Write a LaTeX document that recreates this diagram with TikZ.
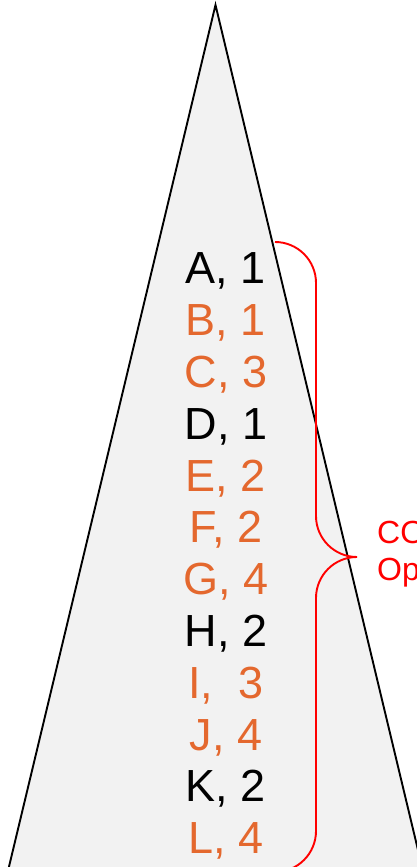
\documentclass[tikz,border=0pt]{standalone}
\usepackage{fontspec}
\setmainfont{Liberation Sans}
\usepackage{tikz}
\usetikzlibrary{positioning}
\definecolor{entryorange}{RGB}{228,104,46}
\definecolor{conefill}{RGB}{242,242,242}

\begin{document}
\begin{tikzpicture}[x=1pt, y=1pt,
entry/.style = {inner sep=0pt, text height=33pt, text depth=8pt, font=\fontsize{45}{52}\selectfont},
node distance=51.8pt
]
%,yshift=0.5cm

\useasboundingbox (0,0) rectangle (417,867);

\coordinate (apex) at (215.5,862);
\coordinate (baseleft) at (7,-8);
\coordinate (baseright) at (424,-8);
\draw[line width=1.9pt, line join=miter, fill=conefill] (baseleft) -- (apex) -- (baseright) -- cycle;

\node (entrya)[entry] at (226,595.5) {A, 1};
\node (entryb)[entry, below of=entrya, entryorange]{B, 1};
\node (entryc)[entry, below of=entryb, entryorange]{C, 3};
\node (entryd)[entry, below of=entryc]{D, 1};
\node (entrye)[entry, below of=entryd, entryorange]{E, 2};
\node (entryf)[entry, below of=entrye, entryorange]{F, 2};
\node (entryg)[entry, below of=entryf, entryorange]{G, 4};
\node (entryh)[entry, below of=entryg]{H, 2};
\node (entryi)[entry, below of=entryh, entryorange]{I,\ \ 3};
\node (entryj)[entry, below of=entryi, entryorange]{J, 4};
\node (entryk)[entry, below of=entryj]{K, 2};
\node (entryl)[entry, below of=entryk, entryorange]{L, 4};

%\draw [red, thick, decorate] (bracetop) -- (bracebottom);

\coordinate (bracetop) at (275,625);
\coordinate (bracetip) at (357,310);
\draw[red, line width=1.9pt] (bracetop) arc[start angle=90, end angle=0, radius=41] -- (316,351) arc[start angle=180, end angle=270, radius=41] arc[start angle=90, end angle=180, radius=41] -- (316,36) arc[start angle=0, end angle=-90, radius=41];

\node (bracelabel)[right=20pt of bracetip, yshift=3pt, inner sep=0pt, red, align=left, font=\fontsize{32}{37}\selectfont]{CO\\Op};

\end{tikzpicture}
\end{document}
